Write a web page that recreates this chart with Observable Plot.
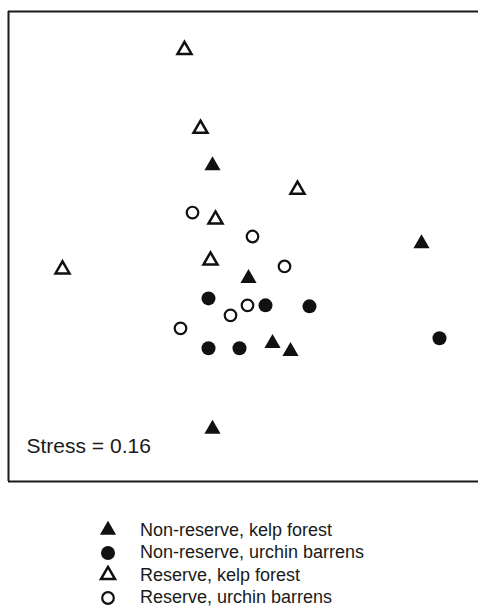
<!DOCTYPE html>
<html><head><meta charset="utf-8">
<script src="https://cdn.jsdelivr.net/npm/d3@7"></script>
<script src="https://cdn.jsdelivr.net/npm/@observablehq/plot@0.6"></script>
<style>
body{margin:0;background:#fff;font-family:"Liberation Sans",Arial,sans-serif;}
#legend{padding-top:24px;margin-left:98px;}
.row{display:flex;align-items:center;height:22.5px;font-size:18px;color:#1a1a1a;white-space:nowrap}
.row svg{width:20px;height:20px;margin-right:22px;flex:none}
</style></head><body><div id="chart"></div><div id="legend"></div>
<script>
// NMDS ordination (arbitrary units)
const categories = ["Non-reserve, kelp forest","Non-reserve, urchin barrens","Reserve, kelp forest","Reserve, urchin barrens"];
const nrKelpX = [-0.28, 1.81, 0.08, 0.32, 0.50, -0.28];
const nrKelpY = [0.80, 0.02, -0.33, -0.98, -1.06, -1.84];
const nrUrchinX = [-0.32, 0.25, 0.69, 1.99, -0.32, -0.01];
const nrUrchinY = [-0.53, -0.60, -0.61, -0.93, -1.03, -1.03];
const rKelpX = [-0.56, -0.40, 0.57, -0.25, -1.78, -0.30];
const rKelpY = [1.96, 1.17, 0.56, 0.26, -0.24, -0.15];
const rUrchinX = [-0.48, 0.12, 0.44, 0.07, -0.10, -0.60];
const rUrchinY = [0.33, 0.09, -0.21, -0.60, -0.70, -0.83];
const stressLabel = "Stress = 0.16";

const style = {
  "Non-reserve, kelp forest": {symbol: "triangle", fill: "#111", stroke: "none", r: 6, sw: 0},
  "Non-reserve, urchin barrens": {symbol: "circle", fill: "#111", stroke: "none", r: 7, sw: 0},
  "Reserve, kelp forest": {symbol: "triangle", fill: "none", stroke: "#111", r: 5.2, sw: 2.5},
  "Reserve, urchin barrens": {symbol: "circle", fill: "none", stroke: "#111", r: 5.8, sw: 2.2}
};
const series = [[nrKelpX, nrKelpY],[nrUrchinX, nrUrchinY],[rKelpX, rKelpY],[rUrchinX, rUrchinY]];
const data = [];
series.forEach(([xs, ys], i) => xs.forEach((x, j) => data.push({group: categories[i], x, y: ys[j]})));

const xDomain = [-2.32, 2.38];
const yDomain = [-2.365, 2.345];

const marks = [
  Plot.ruleY([yDomain[0], yDomain[1]], {stroke: "#1a1a1a", strokeWidth: 2}),
  Plot.ruleX([xDomain[0]], {stroke: "#1a1a1a", strokeWidth: 2}),
  Plot.text([stressLabel], {text: d => d, frameAnchor: "bottom-left", textAnchor: "start", lineAnchor: "middle", dx: 18, dy: -35, fontSize: 21, fill: "#1a1a1a"})
];
categories.forEach(c => {
  const s = style[c];
  marks.push(Plot.dot(data.filter(d => d.group === c), {x: "x", y: "y", symbol: s.symbol, r: s.r, fill: s.fill, stroke: s.stroke, strokeWidth: s.sw}));
});

const chart = Plot.plot({
  width: 478, height: 495,
  marginLeft: 8, marginRight: 0, marginTop: 11, marginBottom: 14,
  style: {fontFamily: "'Liberation Sans', Arial, sans-serif", background: "#fff", overflow: "visible"},
  x: {domain: xDomain, axis: null},
  y: {domain: yDomain, axis: null},
  marks
});
document.getElementById("chart").appendChild(chart);

const legend = document.getElementById("legend");
categories.forEach(c => {
  const s = style[c];
  const row = document.createElement("div");
  row.className = "row";
  const sym = s.symbol === "triangle" ? d3.symbolTriangle : d3.symbolCircle;
  const path = d3.symbol(sym, Math.PI * s.r * s.r)();
  row.innerHTML = `<svg viewBox="-10 -10 20 20"><path d="${path}" fill="${s.fill}" stroke="${s.stroke}" stroke-width="${s.sw}"/></svg><span>${c}</span>`;
  legend.appendChild(row);
});
</script></body></html>
